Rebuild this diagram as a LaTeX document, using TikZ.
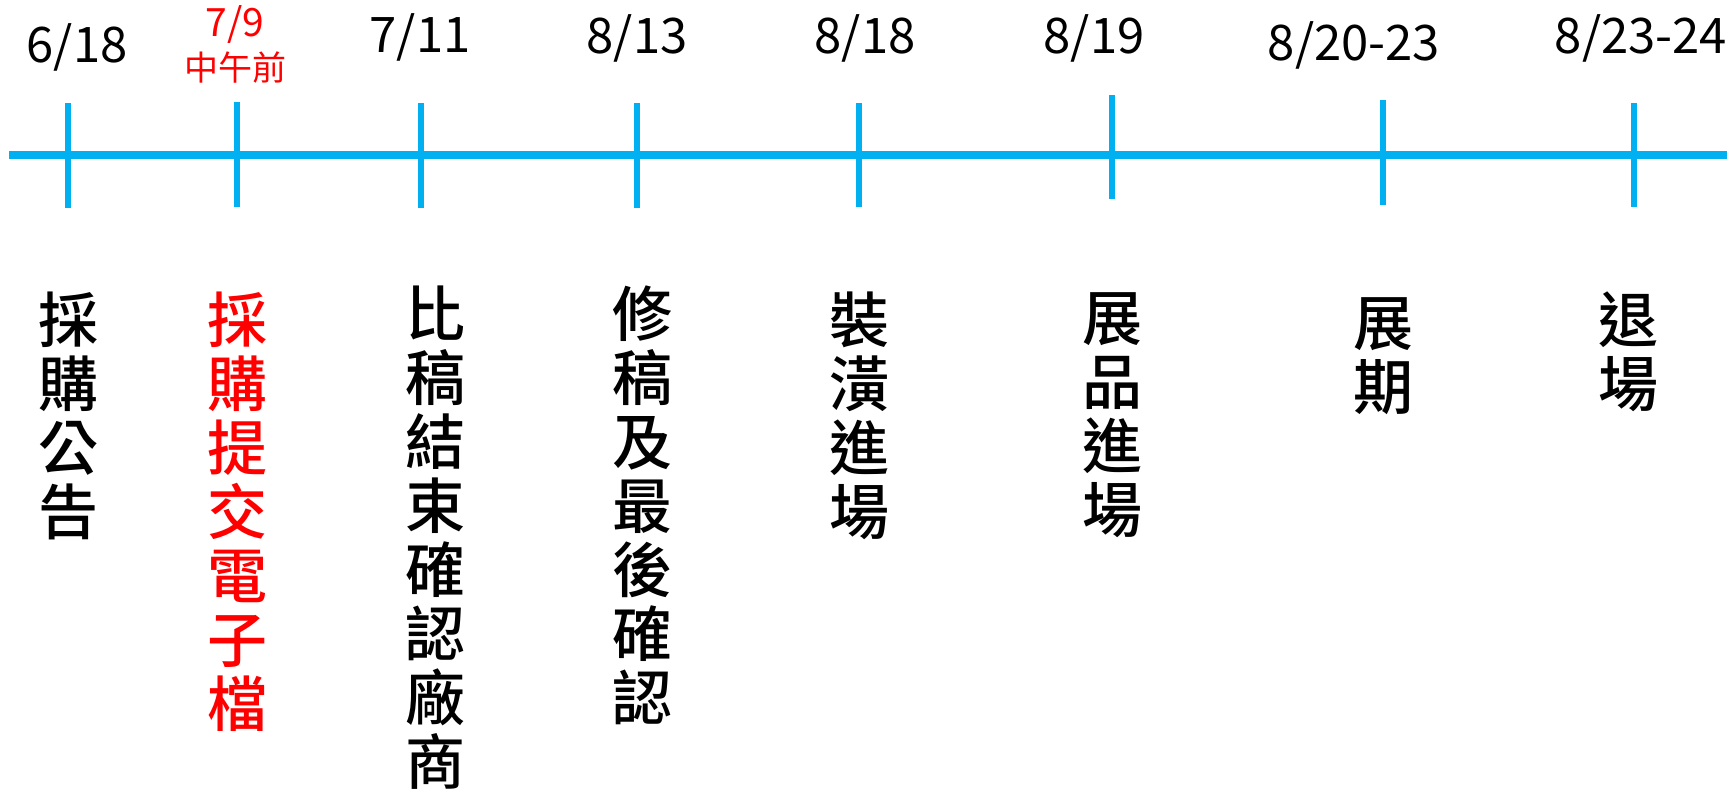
\documentclass[tikz,border=0pt]{standalone}
\usepackage{fontspec}
\setmainfont{Noto Sans CJK TC}
\newfontfamily\taskfont{Noto Sans CJK TC Medium}
\usepackage{tikz}

\definecolor{lineblue}{HTML}{00B0F0}

\begin{document}
\begin{tikzpicture}[x=1pt, y=-1pt,
  every node/.style = {inner sep=0pt, align=center},
  date/.style = {anchor=base, font=\fontsize{49}{49}\selectfont},
  task/.style = {anchor=north, font=\taskfont\fontsize{60}{64}\selectfont},
  datetick/.style = {draw=lineblue, line width=5.5pt}]
  \useasboundingbox (0,0) rectangle (1727,792);

  % time axis
  \coordinate (axisL) at (9,155);
  \coordinate (axisR) at (1727,155);
  \draw[lineblue, line width=8pt] (axisL) -- (axisR);

  \draw[datetick] (68,103) -- (68,208);
  \draw[datetick] (237,102) -- (237,207);
  \draw[datetick] (421,103) -- (421,208);
  \draw[datetick] (637,103) -- (637,208);
  \draw[datetick] (859,103) -- (859,207);
  \draw[datetick] (1112,95) -- (1112,199);
  \draw[datetick] (1383,100) -- (1383,205);
  \draw[datetick] (1634,103) -- (1634,207);

  % dates
  \node[date] (d618) at (77,63) {6/18};
  \node[date, red, font=\fontsize{39}{39}\selectfont] (d709) at (235,37) {7/9};
  \node[date, red, font=\fontsize{34}{34}\selectfont] (noon) at (235,81) {中午前};
  \node[date] (d711) at (420,53) {7/11};
  \node[date] (d813) at (637,54) {8/13};
  \node[date] (d818) at (865,54) {8/18};
  \node[date] (d819) at (1094,54) {8/19};
  \node[date] (d820) at (1354,60) {8/20-23};
  \node[date] (d823) at (1641,54) {8/23-24};

  % tasks
  \node[task] (t618) at (68,292) {採\\購\\公\\告};
  \node[task, red] (t709) at (237,292) {採\\購\\提\\交\\電\\子\\檔};
  \node[task] (t711) at (435,286) {比\\稿\\結\\束\\確\\認\\廠\\商};
  \node[task] (t813) at (642,286) {修\\稿\\及\\最\\後\\確\\認};
  \node[task] (t818) at (859,292) {裝\\潢\\進\\場};
  \node[task] (t819) at (1112,292) {展\\品\\進\\場};
  \node[task] (t820) at (1383,297) {展\\期};
  \node[task] (t823) at (1628,292) {退\\場};
\end{tikzpicture}
\end{document}
